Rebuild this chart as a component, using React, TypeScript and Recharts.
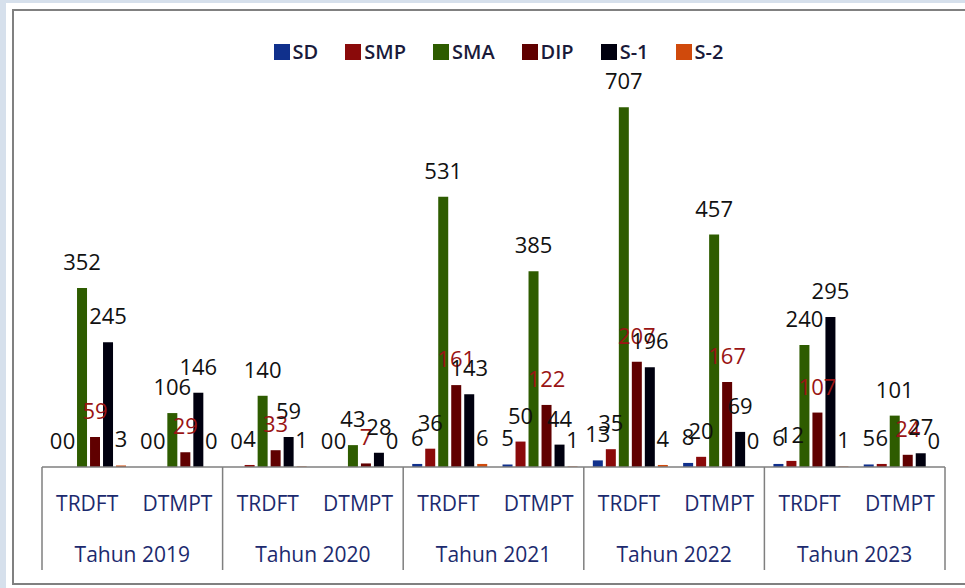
import { Bar, BarChart, LabelList, XAxis, YAxis } from 'recharts';

const years = ['Tahun 2019', 'Tahun 2020', 'Tahun 2021', 'Tahun 2022', 'Tahun 2023'];
const units = ['TRDFT', 'DTMPT'];

// one value per unit per year, in year order
const sd = [0, 0, 0, 0, 6, 5, 13, 8, 6, 5];
const smp = [0, 0, 4, 0, 36, 50, 35, 20, 12, 6];
const sma = [352, 106, 140, 43, 531, 385, 707, 457, 240, 101];
const dip = [59, 29, 33, 7, 161, 122, 207, 167, 107, 24];
const s1 = [245, 146, 59, 28, 143, 44, 196, 69, 295, 27];
const s2 = [3, 0, 1, 0, 6, 1, 4, 0, 1, 0];

const series = [
  { key: 'SD', values: sd, color: '#10308c', label: '#111111' },
  { key: 'SMP', values: smp, color: '#8a0a0a', label: '#111111' },
  { key: 'SMA', values: sma, color: '#2e5c00', label: '#111111' },
  { key: 'DIP', values: dip, color: '#600000', label: '#9a1414' },
  { key: 'S-1', values: s1, color: '#00000f', label: '#111111' },
  { key: 'S-2', values: s2, color: '#d04a0c', label: '#111111' },
];

const rows = years.flatMap((year, i) =>
  units.map((unit, j) => {
    const row: Record<string, string | number> = { unit, year };
    series.forEach((s) => {
      row[s.key] = s.values[i * units.length + j];
    });
    return row;
  })
);

const W = 965;
const H = 588;
const margin = { top: 60, right: 20, left: 42, bottom: 0 };
const half = (W - margin.left - margin.right) / rows.length / 2;
const font = '"Open Sans", sans-serif';
const axisText = '#1c2a6e';

function UnitTick(props: any) {
  const { x, y, payload, index } = props;
  const year = rows[index]?.year as string;
  const first = index % units.length === 0;
  const last = index === rows.length - 1;
  return (
    <g>
      <text x={x} y={y + 44} textAnchor="middle" fontSize={21} fontFamily={font} fill={axisText}>
        {payload.value}
      </text>
      {first && (
        <>
          <line x1={x - half} x2={x - half} y1={y} y2={y + 103} stroke="#7f7f7f" strokeWidth={1.5} />
          <text x={x + half} y={y + 95} textAnchor="middle" fontSize={21} fontFamily={font} fill={axisText}>
            {year}
          </text>
        </>
      )}
      {last && <line x1={x + half} x2={x + half} y1={y} y2={y + 103} stroke="#7f7f7f" strokeWidth={1.5} />}
    </g>
  );
}

function Legend() {
  return (
    <div
      style={{
        position: 'absolute',
        top: 38,
        left: 0,
        width: W,
        display: 'flex',
        justifyContent: 'center',
        gap: 27,
        paddingLeft: 32,
        boxSizing: 'border-box',
        fontFamily: font,
        fontSize: 20,
        fontWeight: 600,
        color: '#1a1a3a',
      }}
    >
      {series.map((s) => (
        <div key={s.key} style={{ display: 'flex', alignItems: 'center', gap: 3 }}>
          <span style={{ width: 16, height: 16, background: s.color, display: 'inline-block' }} />
          <span>{s.key}</span>
        </div>
      ))}
    </div>
  );
}

export default function App() {
  return (
    <div style={{ position: 'absolute', left: 0, top: 0, width: W, height: H, background: '#fff', overflow: 'hidden' }}>
      <div style={{ position: 'absolute', left: 0, top: 0, width: 6, height: H, background: '#d6e0ec' }} />
      <div style={{ position: 'absolute', left: 0, top: 0, width: W, height: 3, background: '#d6e0ec' }} />
      <div
        style={{
          position: 'absolute',
          left: 12,
          top: 9,
          width: W,
          height: 576,
          border: '2px solid #808080',
          boxSizing: 'border-box',
        }}
      />
      <div style={{ position: 'absolute', left: 0, top: 0 }}>
        <BarChart width={W} height={H} data={rows} margin={margin} barCategoryGap="10%" barGap={3}>
          <XAxis
            dataKey="unit"
            height={121}
            interval={0}
            tickLine={false}
            tickSize={0}
            tickMargin={0}
            axisLine={{ stroke: '#7f7f7f', strokeWidth: 1.5 }}
            tick={<UnitTick />}
          />
          <YAxis hide domain={[0, 800]} />
          {series.map((s) => (
            <Bar key={s.key} dataKey={s.key} fill={s.color} minPointSize={0.01} isAnimationActive={false}>
              <LabelList
                dataKey={s.key}
                position="top"
                offset={18}
                fill={s.label}
                fontSize={22}
                fontFamily={font}
              />
            </Bar>
          ))}
        </BarChart>
      </div>
      <Legend />
    </div>
  );
}
